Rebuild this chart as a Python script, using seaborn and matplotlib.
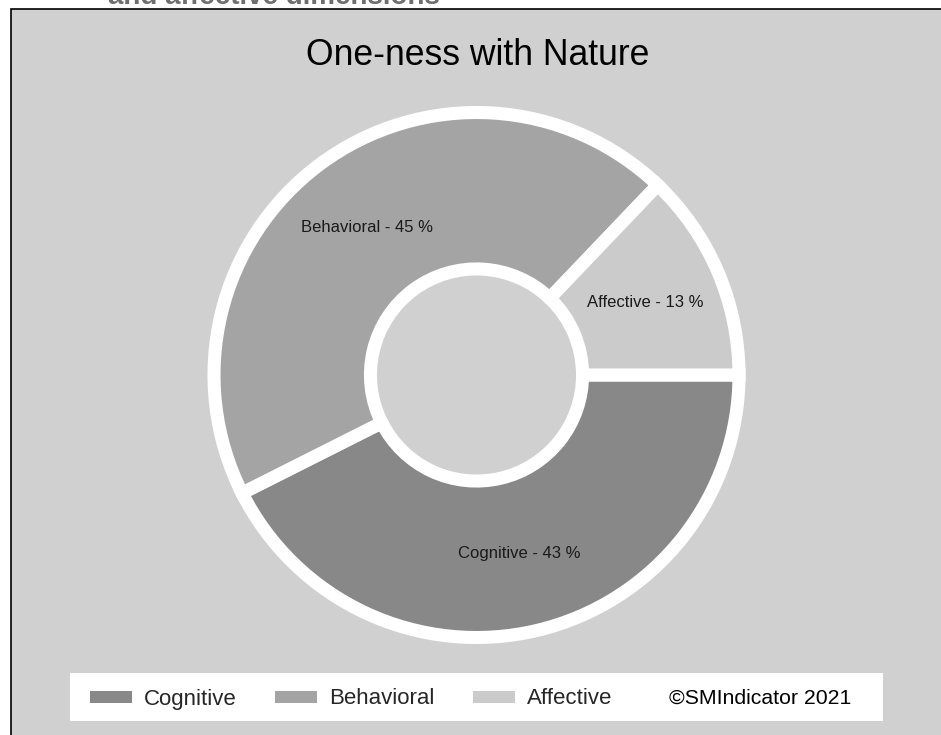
import matplotlib
matplotlib.use("Agg")
import matplotlib.pyplot as plt
from matplotlib.patches import Rectangle, Patch
import seaborn as sns

# Donnees du graphique
categories = ["Cognitive", "Behavioral", "Affective"]
values = [43, 45, 13]
slice_colors = ["#888888", "#a4a4a4", "#cbcbcb"]
chart_title = "One-ness with Nature"
header_text = "and affective dimensions"
copyright_text = "\u00a9SMIndicator 2021"

sns.set_theme(style="white")
plt.rcParams["font.family"] = ["Liberation Sans", "DejaVu Sans"]

W, H = 941, 735
fig = plt.figure(figsize=(W / 100, H / 100), dpi=100)
fig.patch.set_facecolor("white")

# Panneau gris avec bordure noire (coupe a droite et en bas)
fig.add_artist(Rectangle((10.5 / W, -0.05), 1.0, (H - 8.5) / H + 0.05,
                         transform=fig.transFigure, facecolor="#d0d0d0",
                         edgecolor="black", lw=1.2, zorder=-2))

# Titre de la page, coupe en haut (comme sur l'original)
fig.text(108 / W, 1 - 3.5 / H, header_text, fontsize=20, fontweight="bold",
         color="#6e6e6e", va="baseline", ha="left")

# Titre du graphique
fig.text(477.5 / W, (H - 65) / H, chart_title, fontsize=25.6, color="black",
         ha="center", va="baseline")

# Anneau (donut)
size = 630
cx, cy = 476.5, 375
ax = fig.add_axes([(cx - size / 2) / W, (H - cy - size / 2) / H, size / W, size / H])
palette = sns.color_palette(slice_colors)
labels = [f"{c} - {v} %" for c, v in zip(categories, values)]
wedges, texts = ax.pie(values, labels=labels, colors=palette, startangle=0,
                       counterclock=False, labeldistance=0.70, radius=1.0,
                       wedgeprops=dict(width=0.596, edgecolor="white", linewidth=9.4),
                       textprops=dict(fontsize=12, color="#1a1a1a"))
for t in texts:
    t.set_ha("center")
    t.set_va("center")
ax.set_xlim(-1.2, 1.2)
ax.set_ylim(-1.2, 1.2)
ax.axis("off")

# Cadre blanc de la legende
fig.add_artist(Rectangle((70 / W, (H - 721) / H), (883 - 70) / W, 48 / H,
                         transform=fig.transFigure, facecolor="white",
                         edgecolor="none", zorder=1))

handles = [Patch(facecolor=c, edgecolor="none") for c in palette]
fig.legend(handles, categories, loc="center left",
           bbox_to_anchor=(90 / W, (H - 699) / H), ncol=3, frameon=False,
           fontsize=16, handlelength=1.89, handleheight=0.45,
           handletextpad=0.54, columnspacing=1.72, borderpad=0,
           borderaxespad=0)
fig.text(669 / W, (H - 704) / H, copyright_text, fontsize=15.3,
         color="black", ha="left", va="baseline", zorder=6)

fig.savefig("out.png", dpi=100)
